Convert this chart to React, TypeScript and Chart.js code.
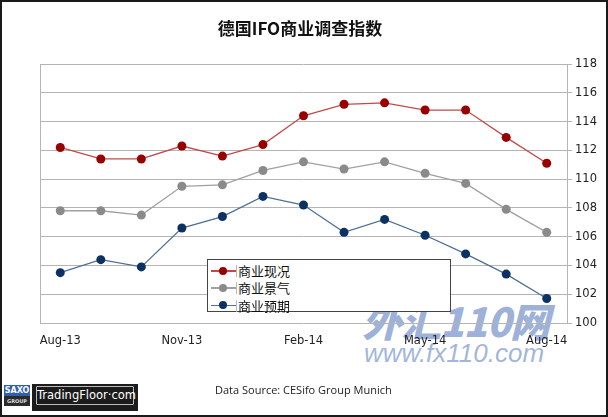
import React, { useEffect, useRef } from "react";
import { Chart, registerables } from "chart.js";

Chart.register(...registerables);

const months = ["Aug-13", "Sep-13", "Oct-13", "Nov-13", "Dec-13", "Jan-14", "Feb-14", "Mar-14", "Apr-14", "May-14", "Jun-14", "Jul-14", "Aug-14"];
const currentSituation = [112.2, 111.4, 111.4, 112.3, 111.6, 112.4, 114.4, 115.2, 115.3, 114.8, 114.8, 112.9, 111.1];
const businessClimate = [107.8, 107.8, 107.5, 109.5, 109.6, 110.6, 111.2, 110.7, 111.2, 110.4, 109.7, 107.9, 106.3];
const expectations = [103.5, 104.4, 103.9, 106.6, 107.4, 108.8, 108.2, 106.3, 107.2, 106.1, 104.8, 103.4, 101.7];
const seriesNames = ["商业现况", "商业景气", "商业预期"];
const lineColors = ["#c04a4a", "#a0a0a0", "#4f6f96"];
const markerColors = ["#990000", "#8a8a8a", "#0c3264"];
const yMin = 100;
const yMax = 118;
const yStep = 2;
const title = "德国IFO商业调查指数";
const source = "Data Source: CESifo Group Munich";

const W = 608;
const H = 417;

export default function App() {
  const ref = useRef<HTMLCanvasElement | null>(null);

  useEffect(() => {
    if (!ref.current) return;
    const seriesData = [currentSituation, businessClimate, expectations];
    const leftLine = {
      id: "leftLine",
      afterDraw(chart: any) {
        const { ctx, chartArea } = chart;
        ctx.save();
        ctx.strokeStyle = "#b4b4b4";
        ctx.lineWidth = 1;
        ctx.beginPath();
        ctx.moveTo(chartArea.left + 0.5, chartArea.top);
        ctx.lineTo(chartArea.left + 0.5, chartArea.bottom);
        ctx.stroke();
        ctx.restore();
      },
    };
    const chart = new Chart(ref.current, {
      type: "line",
      data: {
        labels: months,
        datasets: seriesNames.map((name, i) => ({
          label: name,
          data: seriesData[i],
          borderColor: lineColors[i],
          borderWidth: 1.3,
          backgroundColor: markerColors[i],
          pointBackgroundColor: markerColors[i],
          pointBorderColor: markerColors[i],
          pointRadius: 4.5,
          pointBorderWidth: 0,
          tension: 0,
          fill: false,
        })),
      },
      options: {
        responsive: false,
        animation: false,
        layout: { padding: { left: 40, top: 64, right: 0, bottom: 0 } },
        plugins: {
          legend: { display: false },
          title: { display: false },
          tooltip: { enabled: false },
        },
        scales: {
          x: {
            offset: true,
            grid: { display: false, drawTicks: false },
            border: { display: false },
            afterFit: (s: any) => {
              s.height = 94;
            },
            ticks: {
              autoSkip: false,
              maxRotation: 0,
              padding: 11,
              color: "#222",
              font: { family: "DejaVu Sans", size: 11.5 },
              callback: (_v: any, i: number) => (i % 3 === 0 ? months[i] : ""),
            },
          },
          y: {
            position: "right",
            min: yMin,
            max: yMax,
            afterFit: (s: any) => {
              s.width = 41;
            },
            grid: { color: "#b4b4b4", tickLength: 5, lineWidth: 1 },
            border: { display: true, color: "#b4b4b4" },
            ticks: {
              stepSize: yStep,
              padding: 3,
              color: "#222",
              font: { family: "DejaVu Sans", size: 11.5 },
            },
          },
        },
      },
      plugins: [leftLine],
    });
    return () => chart.destroy();
  }, []);

  return (
    <div
      style={{
        position: "fixed",
        left: 0,
        top: 0,
        width: W,
        height: H,
        background: "#fff",
        overflow: "hidden",
      }}
    >
      {/* watermark (behind chart) */}
      <div
        style={{
          position: "absolute",
          left: 362,
          top: 298,
          fontFamily: "'Noto Sans CJK SC', sans-serif",
          fontWeight: 900,
          fontStyle: "italic",
          fontSize: 40,
          lineHeight: "44px",
          color: "rgba(125,152,205,0.75)",
          whiteSpace: "nowrap",
          pointerEvents: "none",
          letterSpacing: -1,
        }}
      >
        外汇110网
      </div>
      <div
        style={{
          position: "absolute",
          left: 364,
          top: 338,
          fontFamily: "'Liberation Sans', sans-serif",
          fontStyle: "italic",
          fontSize: 26,
          lineHeight: "30px",
          color: "rgba(130,158,208,0.75)",
          whiteSpace: "nowrap",
          pointerEvents: "none",
        }}
      >
        www.fx110.com
      </div>
      <canvas ref={ref} width={W} height={H} style={{ position: "absolute", left: 0, top: 0, width: W, height: H }} />
      <div
        style={{
          position: "absolute",
          left: 0,
          top: 16,
          width: 600,
          textAlign: "center",
          fontFamily: "'Noto Sans CJK SC', sans-serif",
          fontWeight: 700,
          fontSize: 17,
          color: "#111",
          lineHeight: "24px",
        }}
      >
        {title}
      </div>
      {/* legend */}
      <div
        style={{
          position: "absolute",
          left: 207,
          top: 259,
          width: 244,
          height: 53,
          boxSizing: "border-box",
          border: "1px solid #444",
          background: "#fff",
        }}
      >
        {seriesNames.map((name, i) => (
          <div key={name} style={{ position: "absolute", left: 0, top: 2 + i * 17.3, height: 17, width: 240 }}>
            <div style={{ position: "absolute", left: 3, top: 8, width: 25, height: 1.5, background: lineColors[i] }} />
            <div
              style={{
                position: "absolute",
                left: 11,
                top: 4.5,
                width: 8,
                height: 8,
                borderRadius: 4,
                background: markerColors[i],
              }}
            />
            <div style={{ position: "absolute", left: 28, top: 3, width: 1, height: 12, background: "#bbb" }} />
            <div
              style={{
                position: "absolute",
                left: 30,
                top: 0,
                fontFamily: "'Noto Sans CJK SC', sans-serif",
                fontSize: 13,
                lineHeight: "17px",
                color: "#111",
                whiteSpace: "nowrap",
              }}
            >
              {name}
            </div>
          </div>
        ))}
      </div>
      {/* source */}
      <div
        style={{
          position: "absolute",
          left: 215,
          top: 382,
          fontFamily: "'Open Sans', sans-serif",
          fontSize: 11,
          lineHeight: "16px",
          color: "#222",
          whiteSpace: "nowrap",
        }}
      >
        {source}
      </div>
      {/* logo */}
      <div style={{ position: "absolute", left: 4, top: 385, width: 26, height: 21 }}>
        <div
          style={{
            height: 11,
            background: "#2f5fae",
            color: "#fff",
            fontFamily: "'DejaVu Sans', sans-serif",
            fontWeight: 700,
            fontSize: 8,
            lineHeight: "11px",
            textAlign: "center",
          }}
        >
          SAXO
        </div>
        <div
          style={{
            height: 10,
            background: "#2b2b2b",
            color: "#ddd",
            fontFamily: "'DejaVu Sans', sans-serif",
            fontWeight: 700,
            fontSize: 5,
            lineHeight: "10px",
            textAlign: "center",
          }}
        >
          GROUP
        </div>
      </div>
      <div style={{ position: "absolute", left: 32, top: 384, width: 106, height: 27, background: "#1c1c1c" }}>
        <div
          style={{
            position: "absolute",
            left: 4,
            top: 2,
            width: 96,
            height: 17,
            border: "1px solid #bbb",
            borderRadius: 1,
            color: "#fff",
            fontFamily: "'DejaVu Sans', sans-serif",
            fontSize: 11.5,
            lineHeight: "17px",
            textAlign: "center",
            whiteSpace: "nowrap",
          }}
        >
          TradingFloor·com
        </div>
      </div>
      <div
        style={{
          position: "absolute",
          left: 0,
          top: 0,
          width: W,
          height: H,
          boxSizing: "border-box",
          border: "2px solid #1a1a1a",
          pointerEvents: "none",
        }}
      />
    </div>
  );
}
